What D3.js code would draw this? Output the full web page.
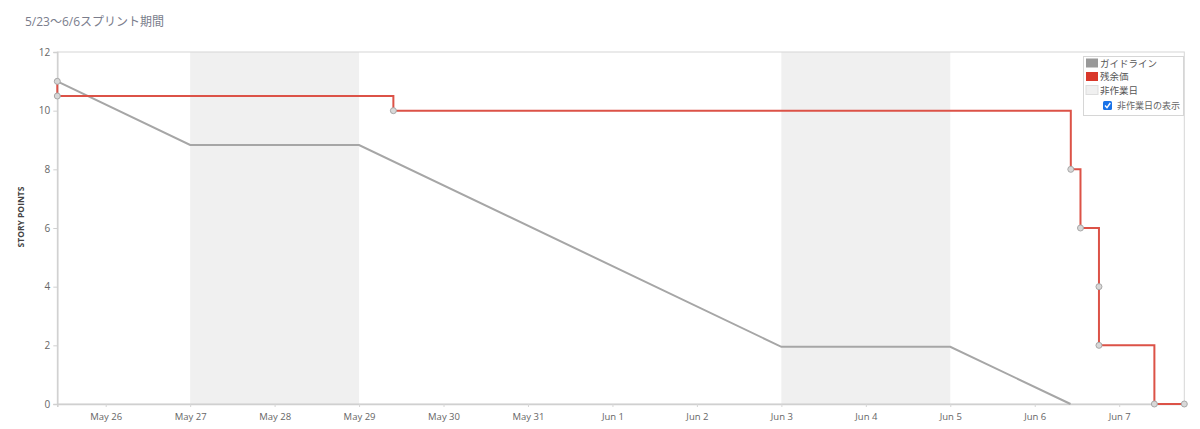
<!DOCTYPE html>
<html><head><meta charset="utf-8">
<script src="https://cdn.jsdelivr.net/npm/d3@7"></script>
<style>
html,body{margin:0;padding:0;background:#fff;}
svg{display:block;font-family:"Open Sans","Noto Sans CJK JP",sans-serif;}
</style></head>
<body>
<script>
const chartTitle = "5/23〜6/6スプリント期間";
const yLabel = "STORY POINTS";
const yTicks = [0, 2, 4, 6, 8, 10, 12];
const xDomain = ["2017-05-25T10:15:00Z", "2017-06-07T18:30:00Z"];
const nonWorkStart = ["2017-05-27T00:00:00Z", "2017-06-03T00:00:00Z"];
const nonWorkEnd = ["2017-05-29T00:00:00Z", "2017-06-05T00:00:00Z"];
const guideDates = ["2017-05-25T10:15:00Z", "2017-05-27T00:00:00Z", "2017-05-29T00:00:00Z", "2017-06-03T00:00:00Z", "2017-06-05T00:00:00Z", "2017-06-06T10:10:00Z"];
const guideValues = [11, 8.83, 8.83, 1.95, 1.95, 0];
const remainDates = ["2017-05-25T10:15:00Z", "2017-05-25T10:15:00Z", "2017-05-29T09:45:00Z", "2017-06-06T10:15:00Z", "2017-06-06T13:00:00Z", "2017-06-06T18:15:00Z", "2017-06-06T18:15:00Z", "2017-06-07T10:00:00Z", "2017-06-07T18:30:00Z"];
const remainValues = [11, 10.5, 10, 8, 6, 4, 2, 0, 0];
const legendLabels = ["ガイドライン", "残余価", "非作業日"];
const legendColors = ["#999999", "#d9382b", "#f0f0f0"];
const checkboxLabel = "非作業日の表示";

const W = 1200, H = 429;
const L = 57.3, R = 1184.3, T = 52, B = 404;
const svg = d3.select("body").append("svg").attr("width", W).attr("height", H);

const x = d3.scaleUtc().domain(xDomain.map(d => new Date(d))).range([L, R]);
const y = d3.scaleLinear().domain([0, 12]).range([B, T]);

svg.append("text").attr("x", 25).attr("y", 26).attr("font-size", 12).attr("fill", "#7a7d8c").text(chartTitle);

// non-working bands
const bands = nonWorkStart.map((s, i) => ({s: new Date(s), e: new Date(nonWorkEnd[i])}));
svg.selectAll("rect.band").data(bands).join("rect").attr("class", "band")
  .attr("x", d => x(d.s)).attr("width", d => x(d.e) - x(d.s))
  .attr("y", T).attr("height", B - T).attr("fill", "#f0f0f0");

// frame
svg.append("rect").attr("x", L).attr("y", T).attr("width", R - L).attr("height", B - T)
  .attr("fill", "none").attr("stroke", "#d6d6d6").attr("stroke-width", 1);

// y axis
const yAxis = svg.append("g").attr("transform", `translate(${L},0)`)
  .call(d3.axisLeft(y).tickValues(yTicks).tickSize(4).tickPadding(3));
yAxis.select(".domain").attr("stroke", "#d0d0d0").attr("stroke-width", 1.5);
yAxis.selectAll(".tick line").attr("stroke", "#d0d0d0");
yAxis.selectAll("text").attr("fill", "#666").attr("font-size", 10).attr("font-family", "Open Sans, sans-serif");

// x axis
const xAxis = svg.append("g").attr("transform", `translate(0,${B})`)
  .call(d3.axisBottom(x).ticks(d3.utcDay.every(1)).tickFormat(d3.utcFormat("%b %-d")).tickSize(3).tickPadding(6));
xAxis.select(".domain").attr("stroke", "#d0d0d0").attr("stroke-width", 1.5);
xAxis.selectAll(".tick line").attr("stroke", "#d6d6d6");
xAxis.selectAll("text").attr("fill", "#666").attr("font-size", 9.5).attr("font-family", "Open Sans, sans-serif");

// y label
svg.append("text").attr("transform", "translate(24,217) rotate(-90)").attr("text-anchor", "middle")
  .attr("font-size", 8.5).attr("font-weight", "bold").attr("fill", "#444").text(yLabel);

// guideline
const guide = guideDates.map((d, i) => ({d: new Date(d), v: guideValues[i]}));
svg.append("path").datum(guide).attr("fill", "none").attr("stroke", "#a6a6a6").attr("stroke-width", 2)
  .attr("d", d3.line().x(d => x(d.d)).y(d => y(d.v)));

// remaining
const remain = remainDates.map((d, i) => ({d: new Date(d), v: remainValues[i]}));
svg.append("path").datum(remain).attr("fill", "none").attr("stroke", "#dc5247").attr("stroke-width", 2)
  .attr("d", d3.line().curve(d3.curveStepAfter).x(d => x(d.d)).y(d => y(d.v)));

// markers
svg.selectAll("circle.g").data([guide[0]]).join("circle").attr("class", "g")
  .attr("cx", d => x(d.d)).attr("cy", d => y(d.v)).attr("r", 3)
  .attr("fill", "#d8d8d8").attr("stroke", "#a8a8a8").attr("stroke-width", 1);
svg.selectAll("circle.r").data(remain.slice(1)).join("circle").attr("class", "r")
  .attr("cx", d => x(d.d)).attr("cy", d => y(d.v)).attr("r", 3)
  .attr("fill", "#d8d8d8").attr("stroke", "#a8a8a8").attr("stroke-width", 1);

// legend
const lg = svg.append("g");
lg.append("rect").attr("x", 1083.5).attr("y", 56.5).attr("width", 100).attr("height", 59)
  .attr("fill", "#fff").attr("stroke", "#d6d6d6");
legendLabels.forEach((lab, i) => {
  const cy = 63 + i * 13.5;
  lg.append("rect").attr("x", 1086).attr("y", cy - 4.5).attr("width", 12).attr("height", 9)
    .attr("fill", legendColors[i]).attr("stroke", i === 2 ? "#ddd" : "none");
  lg.append("text").attr("x", 1100).attr("y", cy + 3.5).attr("font-size", 9.5).attr("fill", "#555").text(lab);
});
lg.append("rect").attr("x", 1103).attr("y", 101).attr("width", 9).attr("height", 9).attr("rx", 1.5).attr("fill", "#1a73e8");
lg.append("path").attr("d", "M1105 105.5 L1107 107.7 L1110.3 103").attr("fill", "none").attr("stroke", "#fff").attr("stroke-width", 1.4);
lg.append("text").attr("x", 1117).attr("y", 109).attr("font-size", 9).attr("fill", "#666").text(checkboxLabel);
</script>
</body></html>
